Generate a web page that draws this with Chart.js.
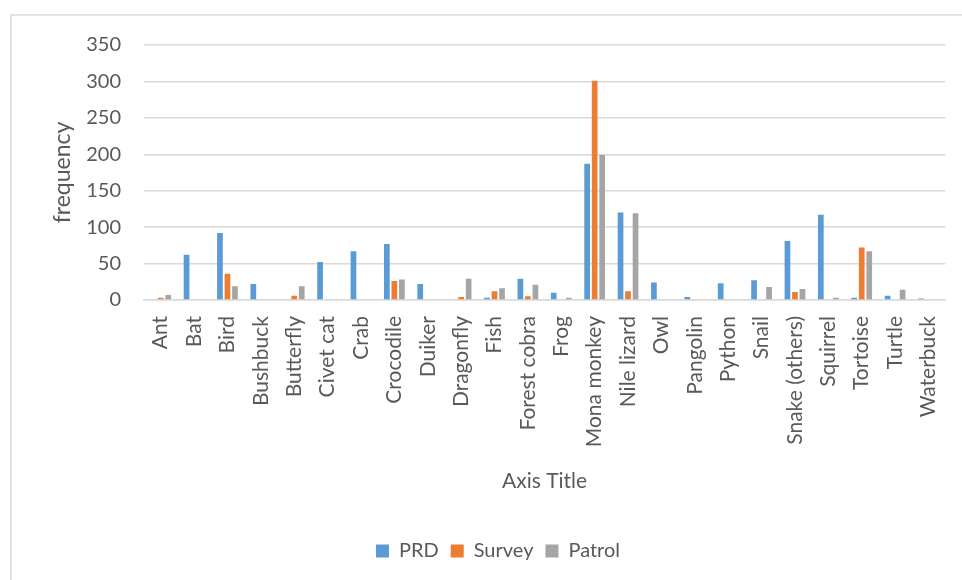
<!DOCTYPE html>
<html>
<head>
<meta charset="utf-8">
<script src="https://cdn.jsdelivr.net/npm/chart.js@4.4.1/dist/chart.umd.min.js"></script>
<style>
  html, body { margin: 0; padding: 0; background: #ffffff; }
  #wrap { width: 962px; height: 580px; position: relative; }
</style>
</head>
<body>
<div id="wrap"><canvas id="c" width="962" height="580"></canvas></div>
<script>
const categories = ["Ant", "Bat", "Bird", "Bushbuck", "Butterfly", "Civet cat", "Crab", "Crocodile",
  "Duiker", "Dragonfly", "Fish", "Forest cobra", "Frog", "Mona monkey", "Nile lizard", "Owl",
  "Pangolin", "Python", "Snail", "Snake (others)", "Squirrel", "Tortoise", "Turtle", "Waterbuck"];

const prd    = [0, 62, 92, 22, 1, 52, 67, 77, 22, 0, 3, 29, 10, 187, 120, 24, 4, 23, 27, 81, 117, 3, 6, 2];
const survey = [3, 0, 36, 0, 6, 0, 0, 26, 0, 4, 12, 5, 1, 301, 12, 0, 0, 0, 0, 11, 0, 72, 0, 0];
const patrol = [7, 0, 19, 0, 19, 0, 0, 28, 1, 29, 16, 21, 3, 199, 119, 0, 0, 1, 18, 15, 3, 67, 14, 0];

const yTicks = [0, 50, 100, 150, 200, 250, 300, 350];

const FONT = "Lato";
const TEXT = "#595959";
const LINE = "#d9d9d9";

// white background and the thin outer frame of the chart box
const framePlugin = {
  id: "frame",
  beforeDraw(chart) {
    const ctx = chart.ctx;
    ctx.save();
    ctx.fillStyle = "#ffffff";
    ctx.fillRect(0, 0, chart.width, chart.height);
    ctx.strokeStyle = LINE;
    ctx.lineWidth = 1.5;
    ctx.beginPath();
    ctx.moveTo(11, chart.height);
    ctx.lineTo(11, 15);
    ctx.lineTo(chart.width, 15);
    ctx.stroke();
    ctx.restore();
  }
};

new Chart(document.getElementById("c"), {
  type: "bar",
  data: {
    labels: categories,
    datasets: [
      { label: "PRD", data: prd, backgroundColor: "#5b9bd5" },
      { label: "Survey", data: survey, backgroundColor: "#ed7d31" },
      { label: "Patrol", data: patrol, backgroundColor: "#a5a5a5" }
    ]
  },
  options: {
    responsive: false,
    animation: false,
    devicePixelRatio: 1,
    datasets: { bar: { categoryPercentage: 0.675, barPercentage: 0.76, borderWidth: 0 } },
    layout: { padding: { left: 49, right: 15, top: 45, bottom: 9 } },
    plugins: {
      legend: {
        position: "bottom",
        labels: {
          font: { family: FONT, size: 20 },
          color: TEXT,
          boxWidth: 13,
          boxHeight: 13,
          padding: 12
        }
      },
      tooltip: { enabled: false }
    },
    scales: {
      x: {
        grid: { display: false },
        border: { display: true, color: LINE, width: 1.5 },
        ticks: {
          autoSkip: false,
          minRotation: 90,
          maxRotation: 90,
          padding: 8,
          color: TEXT,
          font: { family: FONT, size: 21 }
        },
        title: {
          display: true,
          text: "Axis Title",
          color: TEXT,
          font: { family: FONT, size: 21 },
          padding: { top: 4, bottom: 35 }
        },
        afterFit(scale) { scale.height = 229; }
      },
      y: {
        min: 0,
        max: 350,
        afterBuildTicks(scale) { scale.ticks = yTicks.map(v => ({ value: v })); },
        grid: { color: LINE, lineWidth: 1.5, drawTicks: false },
        border: { display: false },
        ticks: {
          padding: 23,
          color: TEXT,
          font: { family: FONT, size: 20 }
        },
        title: {
          display: true,
          text: "frequency",
          color: TEXT,
          font: { family: FONT, size: 23 },
          padding: { top: 0, bottom: 0 }
        },
        afterFit(scale) { scale.width = 95; }
      }
    }
  },
  plugins: [framePlugin]
});
</script>
</body>
</html>
